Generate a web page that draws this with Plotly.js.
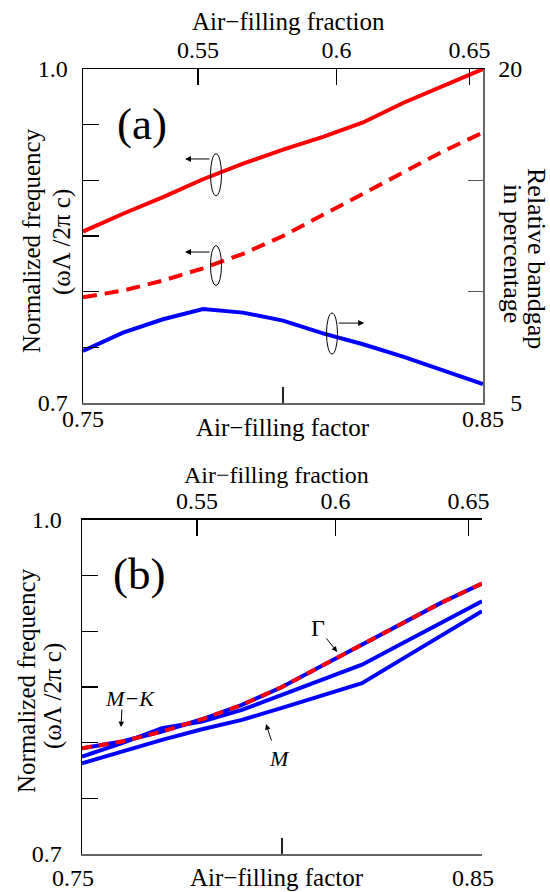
<!DOCTYPE html>
<html>
<head>
<meta charset="utf-8">
<script src="https://cdn.plot.ly/plotly-3.0.1.min.js"></script>
<style>
  html, body { margin: 0; padding: 0; background: #fff; }
  #chart { width: 550px; height: 892px; }
</style>
</head>
<body>
<div id="chart"></div>
<script>
// Air-filling factor d/Λ (bottom axis of both panels)
const fillFactor = [0.75, 0.76, 0.77, 0.78, 0.79, 0.80, 0.81, 0.82, 0.83, 0.84, 0.85];

// Panel (a): band-gap edges (normalized frequency) and relative gap width (%)
const gapUpperEdge = [0.854, 0.870, 0.885, 0.901, 0.915, 0.9275, 0.939, 0.952, 0.9695, 0.985, 1.000];
const gapLowerEdge = [0.795, 0.801, 0.810, 0.821, 0.834, 0.850, 0.869, 0.888, 0.907, 0.926, 0.943];
const gapRelative  = [7.34, 8.16, 8.76, 9.22, 9.06, 8.70, 8.13, 7.64, 7.08, 6.48, 5.85];

// Panel (b): band frequencies at the symmetry points, plus the band maximum
const bandGamma = [0.795, 0.801, 0.810, 0.821, 0.834, 0.850, 0.869, 0.888, 0.907, 0.926, 0.943];
const bandMK    = [0.7875, 0.7995, 0.813, 0.819, 0.8295, 0.843, 0.8565, 0.870, 0.889, 0.908, 0.927];
const bandM     = [0.7815, 0.792, 0.8025, 0.812, 0.8205, 0.8313, 0.8424, 0.8535, 0.875, 0.8966, 0.918];
const bandMax   = [0.795, 0.801, 0.810, 0.821, 0.834, 0.850, 0.869, 0.888, 0.907, 0.926, 0.943];

// Axis ticks and labels (figure space keeps the right-hand labels flush right)
const factorTicks   = [0.75, 0.80, 0.85];
const factorLabels  = ['0.75', '', '0.85'];
const fractionTicks = [0.55, 0.6, 0.65];
const freqTicks     = [0.70, 0.75, 0.80, 0.85, 0.90, 0.95, 1.00];
const freqLabels    = ['0.7', '', '', '', '', '', '1.0'];
const gapTicks      = [5, 10, 15, 20];
const gapLabels     = ['\u20075', '', '', '20'];

// Triangular lattice of round holes: f = (π / 2√3) · (d/Λ)²
const fractionToFactor = f => Math.sqrt(f / (Math.PI / (2 * Math.sqrt(3))));

const RED = 'rgb(255,0,0)';
const BLUE = 'rgb(0,0,255)';
const SERIF = 'Liberation Serif, Times New Roman, serif';

// The dashed traces sit on the top (fraction) axes, which share the bottom range.
const traces = [
  // (a)
  { x: fillFactor, y: gapUpperEdge, xaxis: 'x', yaxis: 'y', mode: 'lines',
    line: { color: RED, width: 4 } },
  { x: fillFactor, y: gapLowerEdge, xaxis: 'x2', yaxis: 'y', mode: 'lines',
    line: { color: RED, width: 4, dash: '14px,8px' } },
  { x: fillFactor, y: gapRelative, xaxis: 'x', yaxis: 'y2', mode: 'lines',
    line: { color: BLUE, width: 4 } },
  // (b)
  { x: fillFactor, y: bandM, xaxis: 'x3', yaxis: 'y3', mode: 'lines',
    line: { color: BLUE, width: 4 } },
  { x: fillFactor, y: bandMK, xaxis: 'x3', yaxis: 'y3', mode: 'lines',
    line: { color: BLUE, width: 4 } },
  { x: fillFactor, y: bandGamma, xaxis: 'x3', yaxis: 'y3', mode: 'lines',
    line: { color: BLUE, width: 4 } },
  { x: fillFactor, y: bandMax, xaxis: 'x4', yaxis: 'y3', mode: 'lines',
    line: { color: RED, width: 4, dash: '10px,7px' } }
];

const tickFont = { family: SERIF, size: 24, color: '#000' };

function bottomAxis(domain, anchor, standoff, shift) {
  return {
    domain: domain, anchor: anchor, range: [0.75, 0.85], side: 'bottom',
    tickmode: 'array', tickvals: factorTicks, ticktext: factorLabels,
    ticks: 'inside', ticklen: 16, tickwidth: 1.5, tickcolor: '#222',
    showline: true, linecolor: '#666', linewidth: 1.5,
    showgrid: false, zeroline: false, tickfont: tickFont,
    ticklabelstandoff: standoff, ticklabelshift: shift
  };
}
function topAxis(over, anchor) {
  return {
    overlaying: over, anchor: anchor, side: 'top', range: [0.75, 0.85],
    tickmode: 'array', tickvals: fractionTicks.map(fractionToFactor),
    ticktext: fractionTicks.map(String),
    ticks: 'inside', ticklen: 16, tickwidth: 1.5, tickcolor: '#000',
    showline: true, linecolor: '#000', linewidth: 1.5,
    showgrid: false, zeroline: false, tickfont: tickFont, ticklabelstandoff: 0
  };
}
function leftAxis(domain, anchor, standoff) {
  return {
    domain: domain, anchor: anchor, range: [0.7, 1.0],
    tickmode: 'array', tickvals: freqTicks, ticktext: freqLabels,
    ticks: 'inside', ticklen: 16, tickwidth: 1.5, tickcolor: '#000',
    showline: true, linecolor: '#000', linewidth: 1.5,
    showgrid: false, zeroline: false, tickfont: tickFont, ticklabelstandoff: standoff
  };
}

const layout = {
  width: 550, height: 892,
  margin: { l: 82, r: 67, t: 69, b: 38, pad: 0 },
  paper_bgcolor: '#fff', plot_bgcolor: 'rgba(0,0,0,0)',
  showlegend: false,
  font: { family: SERIF, size: 25, color: '#000' },

  xaxis: bottomAxis([0.0025, 1], 'y', -6, 0),
  xaxis2: topAxis('x', 'y'),
  yaxis: leftAxis([0.5745, 1], 'x', 9),
  yaxis2: {
    overlaying: 'y', anchor: 'x', side: 'right', range: [5, 20],
    tickmode: 'array', tickvals: gapTicks, ticktext: gapLabels,
    ticks: 'inside', ticklen: 15, tickwidth: 1.5, tickcolor: '#555',
    showline: true, linecolor: '#666', linewidth: 1.5,
    showgrid: false, zeroline: false, tickfont: tickFont, ticklabelstandoff: 9
  },

  xaxis3: bottomAxis([0, 0.9975], 'y3', 2, -9),
  xaxis4: topAxis('x3', 'y3'),
  yaxis3: leftAxis([0, 0.4255], 'x3', 14),
  yaxis4: {
    overlaying: 'y3', anchor: 'x3', side: 'right', range: [0.7, 1.0],
    tickmode: 'array', tickvals: [0.7, 0.8, 0.9, 1.0], showticklabels: false,
    ticks: 'inside', ticklen: 15, tickwidth: 1.5, tickcolor: '#555',
    showline: true, linecolor: '#666', linewidth: 1.5,
    showgrid: false, zeroline: false
  },

  shapes: [
    // axis-membership ellipses in (a)
    { type: 'circle', xref: 'x', yref: 'y', xsizemode: 'pixel', ysizemode: 'pixel',
      xanchor: 0.78325, yanchor: 0.905, x0: -5.5, x1: 5.5, y0: -21, y1: 21,
      line: { color: '#000', width: 1 }, fillcolor: 'rgba(0,0,0,0)' },
    { type: 'circle', xref: 'x', yref: 'y', xsizemode: 'pixel', ysizemode: 'pixel',
      xanchor: 0.78325, yanchor: 0.8235, x0: -5.5, x1: 5.5, y0: -20, y1: 20,
      line: { color: '#000', width: 1 }, fillcolor: 'rgba(0,0,0,0)' },
    { type: 'circle', xref: 'x', yref: 'y2', xsizemode: 'pixel', ysizemode: 'pixel',
      xanchor: 0.81225, yanchor: 8.12, x0: -5.5, x1: 5.5, y0: -20.5, y1: 20.5,
      line: { color: '#000', width: 1 }, fillcolor: 'rgba(0,0,0,0)' }
  ],

  annotations: [
    // panel tags
    { text: '(a)', xref: 'paper', yref: 'paper', x: (142 - 82) / 401, y: (854 - 124) / 785,
      showarrow: false, font: { family: SERIF, size: 45 }, xanchor: 'center', yanchor: 'middle' },
    { text: '(b)', xref: 'paper', yref: 'paper', x: (139 - 82) / 401, y: (854 - 574) / 785,
      showarrow: false, font: { family: SERIF, size: 45 }, xanchor: 'center', yanchor: 'middle' },

    // axis titles, panel (a)
    { text: 'Air\u2212filling fraction', xref: 'paper', yref: 'paper',
      x: (288 - 82) / 401, y: (854 - 21) / 785, showarrow: false, xanchor: 'center', yanchor: 'middle' },
    { text: 'Air\u2212filling factor', xref: 'paper', yref: 'paper',
      x: (283 - 82) / 401, y: (854 - 427) / 785, showarrow: false, xanchor: 'center', yanchor: 'middle' },
    { text: 'Normalized frequency', xref: 'paper', yref: 'paper', textangle: -90,
      x: (32 - 82) / 401, y: (854 - 241) / 785, showarrow: false, xanchor: 'center', yanchor: 'middle' },
    { text: '(\u03c9\u039b /2\u03c0 c)', xref: 'paper', yref: 'paper', textangle: -90,
      x: (62 - 82) / 401, y: (854 - 242) / 785, showarrow: false, xanchor: 'center', yanchor: 'middle' },
    { text: 'Relative bandgap', xref: 'paper', yref: 'paper', textangle: 90,
      x: (537 - 82) / 401, y: (854 - 258) / 785, showarrow: false, xanchor: 'center', yanchor: 'middle',
      font: { family: SERIF, size: 26 } },
    { text: 'in percentage', xref: 'paper', yref: 'paper', textangle: 90,
      x: (512 - 82) / 401, y: (854 - 253) / 785, showarrow: false, xanchor: 'center', yanchor: 'middle',
      font: { family: SERIF, size: 26 } },

    // axis titles, panel (b)
    { text: 'Air\u2212filling fraction', xref: 'paper', yref: 'paper',
      x: (276 - 82) / 401, y: (854 - 475) / 785, showarrow: false, xanchor: 'center', yanchor: 'middle',
      font: { family: SERIF, size: 24 } },
    { text: 'Air\u2212filling factor', xref: 'paper', yref: 'paper',
      x: (277 - 82) / 401, y: (854 - 877) / 785, showarrow: false, xanchor: 'center', yanchor: 'middle' },
    { text: 'Normalized frequency', xref: 'paper', yref: 'paper', textangle: -90,
      x: (26 - 82) / 401, y: (854 - 681) / 785, showarrow: false, xanchor: 'center', yanchor: 'middle' },
    { text: '(\u03c9\u039b /2\u03c0 c)', xref: 'paper', yref: 'paper', textangle: -90,
      x: (53 - 82) / 401, y: (854 - 696) / 785, showarrow: false, xanchor: 'center', yanchor: 'middle' },

    // axis pointers in (a)
    { text: '', xref: 'x', yref: 'y', x: 0.7755, y: 0.9192, ax: 26, ay: 0,
      showarrow: true, arrowhead: 2, arrowsize: 1.2, arrowwidth: 1, arrowcolor: '#000' },
    { text: '', xref: 'x', yref: 'y', x: 0.7755, y: 0.8356, ax: 26, ay: 0,
      showarrow: true, arrowhead: 2, arrowsize: 1.2, arrowwidth: 1, arrowcolor: '#000' },
    { text: '', xref: 'x', yref: 'y2', x: 0.8203, y: 8.59, ax: -27, ay: 0,
      showarrow: true, arrowhead: 2, arrowsize: 1.2, arrowwidth: 1, arrowcolor: '#000' },

    // band labels in (b)
    { text: '\u0393', xref: 'x3', yref: 'y3', x: 0.809, y: 0.9032, showarrow: false,
      font: { family: SERIF, size: 24 }, xanchor: 'center', yanchor: 'middle' },
    { text: '', xref: 'x3', yref: 'y3', x: 0.8138, y: 0.8815, ax: -12, ay: -15,
      showarrow: true, arrowhead: 2, arrowsize: 1.1, arrowwidth: 1, arrowcolor: '#000' },
    { text: '<i>M\u2212K</i>', xref: 'x3', yref: 'y3', x: 0.762, y: 0.840, showarrow: false,
      font: { family: SERIF, size: 22 }, xanchor: 'center', yanchor: 'middle' },
    { text: '', xref: 'x3', yref: 'y3', x: 0.75975, y: 0.814, ax: 1, ay: -19,
      showarrow: true, arrowhead: 2, arrowsize: 1.1, arrowwidth: 1, arrowcolor: '#000' },
    { text: '<i>M</i>', xref: 'x3', yref: 'y3', x: 0.79925, y: 0.786, showarrow: false,
      font: { family: SERIF, size: 22 }, xanchor: 'center', yanchor: 'middle' },
    { text: '', xref: 'x3', yref: 'y3', x: 0.796, y: 0.8167, ax: 6, ay: 18,
      showarrow: true, arrowhead: 2, arrowsize: 1.1, arrowwidth: 1, arrowcolor: '#000' }
  ]
};

Plotly.newPlot('chart', traces, layout, { staticPlot: true, displayModeBar: false });
</script>
</body>
</html>
